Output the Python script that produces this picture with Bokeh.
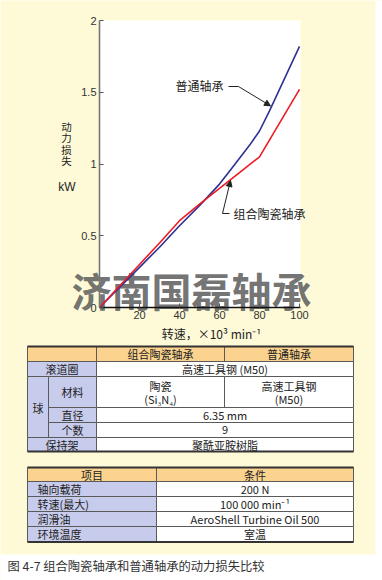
from bokeh.plotting import figure
from bokeh.models import Range1d, Label, Arrow, NormalHead, FixedTicker, LinearAxis
from bokeh.embed import file_html
from bokeh.resources import INLINE
from bokeh.core.properties import value

# ---------------- data ----------------
speed_standard = [0, 10, 20, 30, 40, 50, 60, 65, 70, 75, 80, 85, 90, 95, 100]
loss_standard = [0, 0.14, 0.28, 0.42, 0.57, 0.71, 0.86, 0.95, 1.04, 1.13, 1.23, 1.37, 1.52, 1.67, 1.82]
speed_hybrid = [0, 10, 20, 30, 40, 50, 60, 70, 80, 90, 100]
loss_hybrid = [0, 0.15, 0.30, 0.45, 0.605, 0.72, 0.83, 0.94, 1.05, 1.285, 1.52]
y_ticks = [0, 0.5, 1, 1.5, 2]
y_tick_labels = ["0", "0.5", "1", "1.5", "2"]
x_ticks = [20, 40, 60, 80, 100]
x_tick_labels = ["20", "40", "60", "80", "100"]
x_extent = (0, 100.5)
y_extent = (0, 2)

name_standard = "普通轴承"
name_hybrid = "组合陶瓷轴承"
y_title_chars = ["动", "力", "损", "失"]
y_unit = "kW"
x_title = "转速，×10³ min⁻¹"
watermark = "济南国磊轴承"

t1_header = ["组合陶瓷轴承", "普通轴承"]
t1_race = ["滚道圈", "高速工具钢 (M50)"]
t1_ball = "球"
t1_material = ["材料", ["陶瓷", "(Si₃N₄)"], ["高速工具钢", "(M50)"]]
t1_diameter = ["直径", "6.35 mm"]
t1_count = ["个数", "9"]
t1_cage = ["保持架", "聚酰亚胺树脂"]

t2_header = ["项目", "条件"]
t2_items = ["轴向载荷", "转速(最大)", "润滑油", "环境温度"]
t2_values = ["200 N", "100 000 min⁻¹", "AeroShell Turbine Oil 500", "室温"]
caption = "图 4-7 组合陶瓷轴承和普通轴承的动力损失比较"

# ---------------- styles / layout ----------------
CREAM = "#FEFAD8"
PEACH = "#FBD38E"
LAV = "#C8CCEC"
BLUE = "#2E3192"
RED = "#ED1C24"
TXT = "#222222"
CJK = "Noto Sans CJK SC"
LAT = "Liberation Sans"

W, H = 382, 580
# chart plot area in page pixels
PX_L, PX_R, PX_T, PX_B = 99, 300, 20, 307
sx = (PX_R - PX_L) / (x_extent[1] - x_extent[0])
sy = (PX_B - PX_T) / (y_extent[1] - y_extent[0])
xr = Range1d(x_extent[0] - PX_L / sx, x_extent[0] + (W - PX_L) / sx)
yr = Range1d(y_extent[0] - (H - PX_B) / sy, y_extent[0] + PX_B / sy)

p = figure(width=W, height=H, x_range=xr, y_range=yr,
           output_backend="svg", toolbar_location=None, min_border=0,
           x_axis_type=None, y_axis_type=None)
p.extra_x_ranges = {"px": Range1d(0, W)}
p.extra_y_ranges = {"px": Range1d(H, 0)}
p.background_fill_color = CREAM
p.border_fill_color = CREAM
p.outline_line_color = None

PXR = dict(x_range_name="px", y_range_name="px")

# white strips outside the cream panel
p.quad(left=[0, 375], right=[W, W], top=[554, 0], bottom=[H, H], fill_color="white",
       line_color=None, **PXR)
# chart plot area
p.quad(left=[x_extent[0]], right=[x_extent[1]], bottom=[y_extent[0]], top=[y_extent[1]],
       fill_color="white", line_color=None)

# watermark (below the lines)
p.text(x=[191], y=[289], text=[watermark], text_align="center", text_baseline="middle",
       text_font=value(CJK), text_font_size="40px", text_font_style="bold",
       text_color="#626262", text_alpha=0.9, **PXR)

p.line(speed_standard, loss_standard, line_color=BLUE, line_width=1.6)
p.line(speed_hybrid, loss_hybrid, line_color=RED, line_width=1.6)

# axes drawn at fixed data locations
yaxis = LinearAxis(fixed_location=x_extent[0], bounds=y_extent,
                   ticker=FixedTicker(ticks=y_ticks),
                   major_label_overrides={t: s for t, s in zip(y_ticks, y_tick_labels)})
xaxis = LinearAxis(fixed_location=y_extent[0], bounds=x_extent,
                   ticker=FixedTicker(ticks=x_ticks),
                   major_label_overrides={t: s for t, s in zip(x_ticks, x_tick_labels)})
for ax in (xaxis, yaxis):
    ax.minor_tick_line_color = None
    ax.major_tick_in = 4
    ax.major_tick_out = 0
    ax.major_label_text_font = LAT
    ax.major_label_text_font_size = "11px"
    ax.major_label_text_color = "#333333"
    ax.major_tick_line_color = "#555555"
    ax.major_label_standoff = 3
yaxis.axis_line_color = "#777777"
yaxis.axis_line_width = 1.6
xaxis.axis_line_color = "#111111"
xaxis.axis_line_width = 1.3
p.add_layout(yaxis, "left")
p.add_layout(xaxis, "below")

# annotations
ARW = "#222222"
p.add_layout(Arrow(end=None, x_start=64.5, y_start=1.540, x_end=69.5, y_end=1.540,
                   line_color=ARW, line_width=1))
p.add_layout(Arrow(end=NormalHead(size=6, fill_color=ARW, line_color=ARW, line_width=1),
                   x_start=69.5, y_start=1.540, x_end=85.5, y_end=1.405,
                   line_color=ARW, line_width=1))
p.add_layout(Label(x=62, y=1.547, text=name_standard, text_align="right", text_baseline="middle",
                   text_font=CJK, text_font_size="12px", text_color=TXT))
p.add_layout(Arrow(end=None, x_start=61.5, y_start=0.655, x_end=65.0, y_end=0.655,
                   line_color=ARW, line_width=1))
p.add_layout(Arrow(end=NormalHead(size=6, fill_color=ARW, line_color=ARW, line_width=1),
                   x_start=61.5, y_start=0.655, x_end=65.5, y_end=0.885,
                   line_color=ARW, line_width=1))
p.add_layout(Label(x=67, y=0.655, text=name_hybrid, text_align="left", text_baseline="middle",
                   text_font=CJK, text_font_size="12px", text_color=TXT))

# axis titles
p.text(x=[66] * len(y_title_chars), y=[125.5 + 11.5 * i for i in range(len(y_title_chars))],
       text=y_title_chars, text_align="center", text_baseline="middle",
       text_font=value(CJK), text_font_size="10.5px", text_color=TXT, **PXR)
p.text(x=[66.5], y=[186], text=[y_unit], text_align="center", text_baseline="middle",
       text_font=value(LAT), text_font_size="12px", text_color=TXT, **PXR)
p.text(x=[211], y=[333], text=[x_title], text_align="center", text_baseline="middle",
       text_font=value(CJK), text_font_size="12px", text_color=TXT, **PXR)

# ---------------- tables ----------------
cells = dict(left=[], right=[], top=[], bottom=[], fill=[])
texts = dict(x=[], y=[], text=[], align=[])


def cell(x0, x1, y0, y1, fill):
    cells["left"].append(x0)
    cells["right"].append(x1)
    cells["top"].append(y0)
    cells["bottom"].append(y1)
    cells["fill"].append(fill)


def txt(x, y, s, align="center"):
    texts["x"].append(x)
    texts["y"].append(y)
    texts["text"].append(s)
    texts["align"].append(align)


mid = lambda a, b: (a + b) / 2

# table 1
X0, XB, XL, XM, XR = 27, 48, 96, 224, 353
Y = [346, 361, 376, 407, 422, 437, 451]

cell(X0, XL, Y[0], Y[1], PEACH)
cell(XL, XM, Y[0], Y[1], PEACH); txt(mid(XL, XM), mid(Y[0], Y[1]), t1_header[0])
cell(XM, XR, Y[0], Y[1], PEACH); txt(mid(XM, XR), mid(Y[0], Y[1]), t1_header[1])

cell(X0, XL, Y[1], Y[2], LAV); txt(mid(X0, XL), mid(Y[1], Y[2]), t1_race[0])
cell(XL, XR, Y[1], Y[2], "white"); txt(mid(XL, XR), mid(Y[1], Y[2]), t1_race[1])

cell(X0, XB, Y[2], Y[5], LAV); txt(mid(X0, XB), mid(Y[2], Y[5]) + 1, t1_ball)

cell(XB, XL, Y[2], Y[3], LAV); txt(mid(XB, XL), mid(Y[2], Y[3]), t1_material[0])
cell(XL, XM, Y[2], Y[3], "white")
txt(mid(XL, XM), Y[2] + 9, t1_material[1][0]); txt(mid(XL, XM), Y[2] + 22, t1_material[1][1])
cell(XM, XR, Y[2], Y[3], "white")
txt(mid(XM, XR), Y[2] + 9, t1_material[2][0]); txt(mid(XM, XR), Y[2] + 22, t1_material[2][1])

for (lab, val), r in ((t1_diameter, 3), (t1_count, 4)):
    cell(XB, XL, Y[r], Y[r + 1], LAV); txt(mid(XB, XL), mid(Y[r], Y[r + 1]), lab)
    cell(XL, XR, Y[r], Y[r + 1], "white"); txt(mid(XL, XR), mid(Y[r], Y[r + 1]), val)

cell(X0, XL, Y[5], Y[6], LAV); txt(mid(X0, XL), mid(Y[5], Y[6]), t1_cage[0])
cell(XL, XR, Y[5], Y[6], "white"); txt(mid(XL, XR), mid(Y[5], Y[6]), t1_cage[1])

# table 2
XS = 156
Z = [467, 481, 496, 511, 526, 541.5]
cell(X0, XS, Z[0], Z[1], PEACH); txt(mid(X0, XS), mid(Z[0], Z[1]), t2_header[0])
cell(XS, XR, Z[0], Z[1], PEACH); txt(mid(XS, XR), mid(Z[0], Z[1]), t2_header[1])
for i, (lab, val) in enumerate(zip(t2_items, t2_values)):
    cell(X0, XS, Z[i + 1], Z[i + 2], LAV); txt(X0 + 10, mid(Z[i + 1], Z[i + 2]), lab, "left")
    cell(XS, XR, Z[i + 1], Z[i + 2], "white"); txt(mid(XS, XR), mid(Z[i + 1], Z[i + 2]), val)

p.quad(left=cells["left"], right=cells["right"], top=cells["top"], bottom=cells["bottom"],
       fill_color=cells["fill"], line_color="#5a5a5a", line_width=1, **PXR)
p.text(x=texts["x"], y=texts["y"], text=texts["text"], text_align=texts["align"],
       text_baseline="middle", text_font=value(CJK), text_font_size="11px",
       text_color=TXT, **PXR)
rules = [Y[0], Y[6], Z[0], Z[5]]
p.segment(x0=[X0] * 4, x1=[XR] * 4, y0=rules, y1=rules, line_color="#333333",
          line_width=1.8, **PXR)

p.text(x=[7], y=[565], text=[caption], text_align="left", text_baseline="middle",
       text_font=value(CJK), text_font_size="12.3px", text_color="#333333", **PXR)

open("out.html", "w").write(file_html(p, INLINE))
